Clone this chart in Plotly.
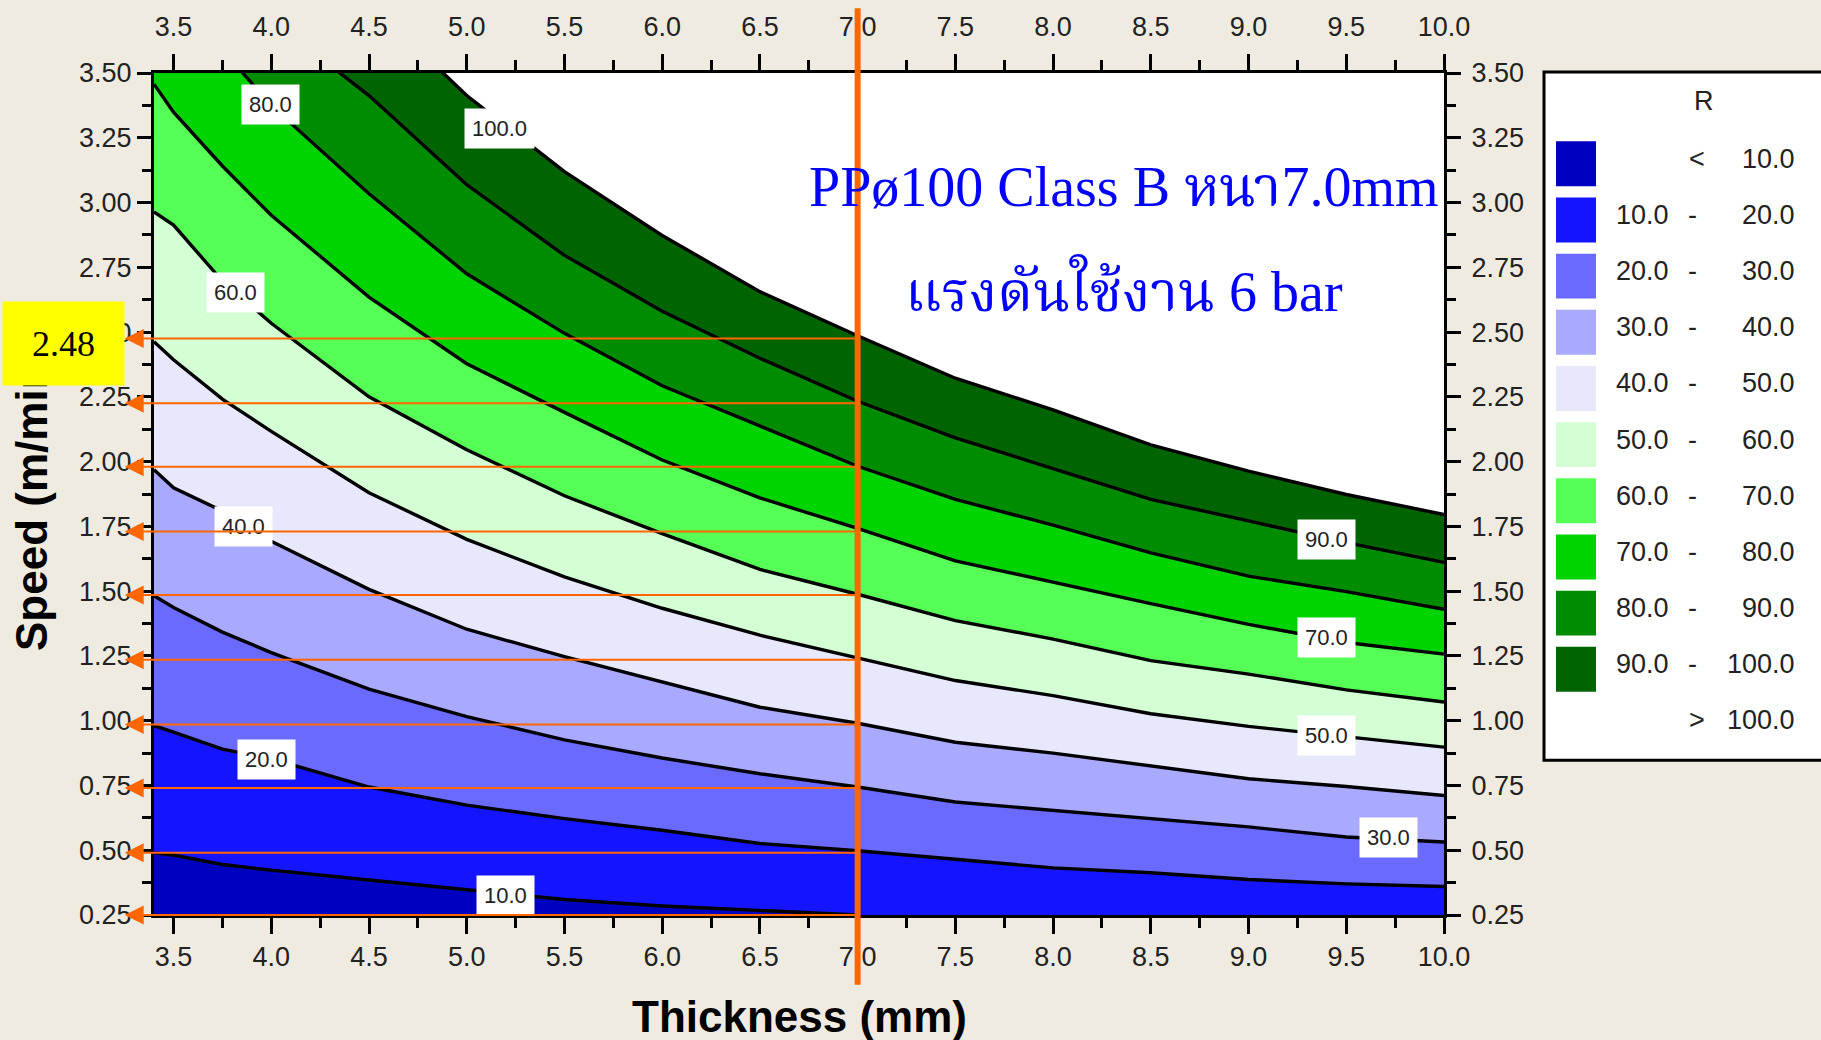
import plotly.graph_objects as go

# ---------------- data ----------------
THICKNESS = [3.4, 3.5, 3.75, 4.0, 4.5, 5.0, 5.5, 6.0, 6.5, 7.0, 7.5, 8.0, 8.5, 9.0, 9.5, 10.0]

# speed (m/min) of each contour line R = level at every thickness above
R10 = [0.49, 0.481, 0.445, 0.423, 0.385, 0.349, 0.31, 0.285, 0.269, 0.25]
R20 = [0.981, 0.956, 0.89, 0.853, 0.744, 0.674, 0.622, 0.577, 0.526, 0.498, 0.465, 0.432, 0.413, 0.387, 0.37, 0.36]
R30 = [1.482, 1.437, 1.342, 1.263, 1.122, 1.016, 0.926, 0.856, 0.795, 0.744, 0.686, 0.654, 0.622, 0.59, 0.551, 0.532]
R40 = [1.969, 1.899, 1.809, 1.693, 1.507, 1.353, 1.247, 1.148, 1.052, 0.99, 0.917, 0.875, 0.827, 0.776, 0.746, 0.711]
R50 = [2.463, 2.393, 2.241, 2.117, 1.88, 1.70, 1.555, 1.434, 1.33, 1.243, 1.155, 1.097, 1.027, 0.978, 0.937, 0.898]
R60 = [2.964, 2.913, 2.697, 2.534, 2.25, 2.046, 1.868, 1.722, 1.584, 1.488, 1.386, 1.315, 1.232, 1.18, 1.119, 1.072]
R70 = [3.457, 3.349, 3.141, 2.951, 2.635, 2.378, 2.19, 2.006, 1.86, 1.742, 1.617, 1.533, 1.452, 1.372, 1.302, 1.257]
R80 = [3.90, 3.81, 3.59, 3.374, 3.034, 2.725, 2.495, 2.293, 2.136, 1.982, 1.854, 1.755, 1.648, 1.558, 1.498, 1.43]
R90 = [4.06, 4.0, 3.85, 3.705, 3.413, 3.069, 2.796, 2.58, 2.399, 2.233, 2.092, 1.973, 1.854, 1.771, 1.687, 1.611]
R100 = [4.57, 4.5, 4.33, 4.15, 3.773, 3.413, 3.119, 2.873, 2.656, 2.486, 2.322, 2.2, 2.065, 1.963, 1.873, 1.796]

LEVELS = [10, 20, 30, 40, 50, 60, 70, 80, 90, 100]
CONTOURS = [R10, R20, R30, R40, R50, R60, R70, R80, R90, R100]

# colour of the band just below each contour level (i.e. level-10 .. level)
BAND_COLORS = ["#0000C0", "#1414FF", "#6A6AFF", "#A9A9FF", "#E8E8FC",
               "#D4FFD4", "#55FF55", "#00D400", "#008C00", "#006400"]
TOP_COLOR = "#FFFFFF"  # > 100

LEGEND_LEFT = ["", "10.0", "20.0", "30.0", "40.0", "50.0", "60.0", "70.0", "80.0", "90.0", ""]
LEGEND_SEP = ["<", "-", "-", "-", "-", "-", "-", "-", "-", "-", ">"]
LEGEND_RIGHT = ["10.0", "20.0", "30.0", "40.0", "50.0", "60.0", "70.0", "80.0", "90.0", "100.0", "100.0"]

LABEL_TEXT = ["80.0", "100.0", "60.0", "40.0", "20.0", "10.0", "90.0", "70.0", "50.0", "30.0"]
LABEL_X = [3.994, 5.167, 3.815, 3.858, 3.977, 5.197, 9.40, 9.40, 9.40, 9.715]
LABEL_Y = [3.379, 3.284, 2.651, 1.75, 0.849, 0.324, 1.70, 1.322, 0.941, 0.549]

MARK_THICKNESS = 7.0
MARK_SPEEDS = [0.25, 0.49, 0.74, 0.985, 1.235, 1.485, 1.73, 1.98, 2.225, 2.475]
MARK_TEXT = "2.48"
ARROW_TIP_X = 3.25

TITLE_LINE1 = "PPø100 Class B หนา7.0mm"
TITLE_LINE2 = "แรงดันใช้งาน 6 bar"

# ---------------- layout geometry (pixels) ----------------
W, H = 1821, 1040
ML, MR, MT, MB = 154, 377, 71, 125
PW = W - ML - MR
PH = H - MT - MB
BOTTOM = MT + PH


def px(X):
    return (X - ML) / PW


def py(Y):
    return (BOTTOM - Y) / PH


SANS = "Liberation Sans, Arial, sans-serif"
SERIF = "Liberation Serif, Times New Roman, Noto Serif Thai, Noto Sans Thai, serif"
BG = "#EFEBE1"
ORANGE = "#FF6600"
TXT = "#222222"

fig = go.Figure()

# filled bands: draw from highest contour down, each filling to the bottom
for lvl, ys, col in reversed(list(zip(LEVELS, CONTOURS, BAND_COLORS))):
    fig.add_trace(go.Scatter(
        x=THICKNESS[:len(ys)], y=ys, mode="lines",
        line=dict(color="black", width=3.4),
        fill="tozeroy", fillcolor=col,
        hoverinfo="skip", showlegend=False, name=str(lvl)))

# dummy trace for the mirrored (top/right) axes
fig.add_trace(go.Scatter(x=[THICKNESS[0]], y=[MARK_SPEEDS[0]], xaxis="x2", yaxis="y2",
                         mode="markers", marker=dict(opacity=0), hoverinfo="skip",
                         showlegend=False))

tickfont = dict(family=SANS, size=27, color=TXT)
xcommon = dict(range=[3.4, 10.0], tickmode="linear", tick0=3.5, dtick=0.5,
               tickformat=".1f", ticks="outside", ticklen=16, tickwidth=3,
               tickcolor="black", showline=True, linewidth=3, linecolor="black",
               showgrid=False, zeroline=False, tickfont=tickfont,
               minor=dict(ticks="outside", ticklen=10, tickwidth=3, tick0=3.5,
                          dtick=0.25, tickcolor="black", showgrid=False))
ycommon = dict(range=[0.25, 3.5], tickmode="linear", tick0=0.25, dtick=0.25,
               tickformat=".2f", ticks="outside", ticklen=14, tickwidth=3,
               tickcolor="black", showline=True, linewidth=3, linecolor="black",
               showgrid=False, zeroline=False, tickfont=tickfont,
               minor=dict(ticks="outside", ticklen=9, tickwidth=3, tick0=0.25,
                          dtick=0.125, tickcolor="black", showgrid=False))

annotations = []
# contour labels
for t, x, y in zip(LABEL_TEXT, LABEL_X, LABEL_Y):
    annotations.append(dict(x=x, y=y, xref="x", yref="y", text=t, showarrow=False,
                            bgcolor="white", borderpad=7,
                            font=dict(family=SANS, size=22, color=TXT)))
# orange arrows
for s in MARK_SPEEDS:
    annotations.append(dict(x=ARROW_TIP_X, y=s, ax=MARK_THICKNESS, ay=s,
                            xref="x", yref="y", axref="x", ayref="y", text="",
                            showarrow=True, arrowhead=2, arrowsize=1.9,
                            arrowwidth=2, arrowcolor=ORANGE, standoff=0))
# big blue text
annotations.append(dict(x=px(1124), y=py(185), xref="paper", yref="paper",
                        text=TITLE_LINE1, showarrow=False, xanchor="center", yanchor="middle",
                        font=dict(family=SERIF, size=56, color="#0000FF")))
annotations.append(dict(x=px(1124), y=py(287), xref="paper", yref="paper",
                        text=TITLE_LINE2, showarrow=False, xanchor="center", yanchor="middle",
                        font=dict(family=SERIF, size=56, color="#0000FF")))
# axis titles
annotations.append(dict(x=0.5, y=py(1017), xref="paper", yref="paper",
                        text="Thickness (mm)", showarrow=False, xanchor="center", yanchor="middle",
                        font=dict(family=SANS, size=44, color="black", weight="bold")))
annotations.append(dict(x=px(32), y=py(499), xref="paper", yref="paper",
                        text="Speed (m/min)", showarrow=False, textangle=-90,
                        xanchor="center", yanchor="middle",
                        font=dict(family=SANS, size=44, color="black", weight="bold")))
# yellow value box
annotations.append(dict(x=px(63.6), y=py(341.7), xref="paper", yref="paper",
                        text=MARK_TEXT, showarrow=False, width=121, height=83, borderpad=0,
                        bgcolor="#FFFF00", xanchor="center", yanchor="middle",
                        font=dict(family=SERIF, size=36, color="black")))

shapes = []
# vertical orange marker line
shapes.append(dict(type="line", xref="x", yref="paper", x0=MARK_THICKNESS, x1=MARK_THICKNESS,
                   y0=py(985), y1=py(6), line=dict(color=ORANGE, width=6), layer="above"))
# legend box
shapes.append(dict(type="rect", xref="paper", yref="paper", x0=px(1544), x1=px(1835),
                   y0=py(760), y1=py(70), fillcolor="white",
                   line=dict(color="black", width=3), layer="above"))
annotations.append(dict(x=px(1704), y=py(99), xref="paper", yref="paper", text="R",
                        showarrow=False, xanchor="center", yanchor="middle",
                        font=dict(family=SANS, size=27, color=TXT)))
ROW0, ROWSTEP = 162, 56.3
for i in range(11):
    yc = ROW0 + ROWSTEP * i
    if i < 10:
        shapes.append(dict(type="rect", xref="paper", yref="paper",
                           x0=px(1556), x1=px(1596), y0=py(yc + 22.5), y1=py(yc - 22.5),
                           fillcolor=BAND_COLORS[i], line=dict(width=0), layer="above"))
    yt = py(yc - 5)
    lf = dict(family=SANS, size=27, color=TXT)
    if LEGEND_LEFT[i]:
        annotations.append(dict(x=px(1614), y=yt, xref="paper", yref="paper",
                                text=LEGEND_LEFT[i], showarrow=False, xanchor="left",
                                yanchor="middle", font=lf))
    sep_x = 1692 if LEGEND_SEP[i] == "-" else 1697
    annotations.append(dict(x=px(sep_x), y=yt, xref="paper", yref="paper",
                            text=LEGEND_SEP[i], showarrow=False, xanchor="center",
                            yanchor="middle", font=lf))
    annotations.append(dict(x=px(1797), y=yt, xref="paper", yref="paper",
                            text=LEGEND_RIGHT[i], showarrow=False, xanchor="right",
                            yanchor="middle", font=lf))

fig.update_layout(
    width=W, height=H,
    margin=dict(l=ML, r=MR, t=MT, b=MB, pad=0),
    paper_bgcolor=BG, plot_bgcolor=TOP_COLOR,
    showlegend=False,
    xaxis=dict(**xcommon, side="bottom"),
    xaxis2=dict(**xcommon, side="top", overlaying="x", anchor="y", ticklabelstandoff=7),
    yaxis=dict(**ycommon, side="left"),
    yaxis2=dict(**ycommon, side="right", overlaying="y", anchor="x", ticklabelstandoff=5),
    annotations=annotations,
    shapes=shapes,
)

fig.write_html("out.html", config={"displayModeBar": False},
               post_script="document.body.style.margin='0px';document.body.style.overflow='hidden';")
